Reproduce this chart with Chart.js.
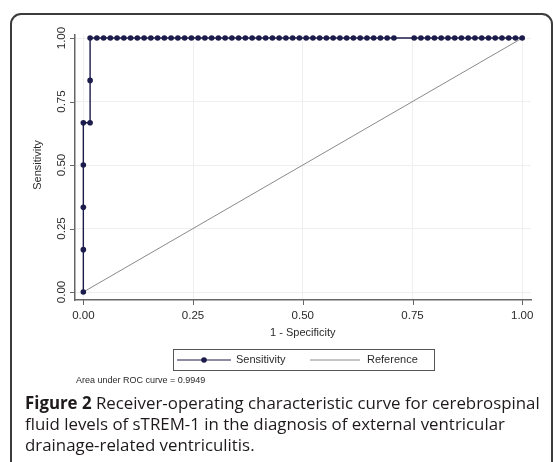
<!DOCTYPE html>
<html>
<head>
<meta charset="utf-8">
<script src="https://cdn.jsdelivr.net/npm/chart.js@4"></script>
<style>
  html, body { margin: 0; padding: 0; background: #fff; }
  #wrap { width: 553px; height: 462px; position: relative; }
</style>
</head>
<body>
<div id="wrap"><canvas id="roc"></canvas></div>
<script>
// ROC curve data (1 - specificity, sensitivity)
const fprValues = [
  0, 0, 0, 0, 0, 0.0154, 0.0154, 0.0154,
  0.0308, 0.0462, 0.0615, 0.0769, 0.0923, 0.1077, 0.1231, 0.1385, 0.1538, 0.1692,
  0.1846, 0.2, 0.2154, 0.2308, 0.2462, 0.2615, 0.2769, 0.2923, 0.3077, 0.3231,
  0.3385, 0.3538, 0.3692, 0.3846, 0.4, 0.4154, 0.4308, 0.4462, 0.4615, 0.4769,
  0.4923, 0.5077, 0.5231, 0.5385, 0.5538, 0.5692, 0.5846, 0.6, 0.6154, 0.6308,
  0.6462, 0.6615, 0.6769, 0.6923, 0.7077, 0.7538, 0.7692, 0.7846, 0.8, 0.8154,
  0.8308, 0.8462, 0.8615, 0.8769, 0.8923, 0.9077, 0.9231, 0.9385, 0.9538, 0.9692,
  0.9846, 1
];
const sensValues = [
  0, 0.1667, 0.3333, 0.5, 0.6667, 0.6667, 0.8333, 1,
  1, 1, 1, 1, 1, 1, 1, 1, 1, 1,
  1, 1, 1, 1, 1, 1, 1, 1, 1, 1,
  1, 1, 1, 1, 1, 1, 1, 1, 1, 1,
  1, 1, 1, 1, 1, 1, 1, 1, 1, 1,
  1, 1, 1, 1, 1, 1, 1, 1, 1, 1,
  1, 1, 1, 1, 1, 1, 1, 1, 1, 1,
  1, 1
];
const refX = [0, 1];
const refY = [0, 1];
const tickValues = [0, 0.25, 0.5, 0.75, 1];
const tickLabels = ['0.00', '0.25', '0.50', '0.75', '1.00'];
const legendLabels = ['Sensitivity', 'Reference'];
const aucNote = 'Area under ROC curve = 0.9949';
const captionBold = 'Figure 2';
const captionLines = [
  ' Receiver-operating characteristic curve for cerebrospinal',
  'fluid levels of sTREM-1 in the diagnosis of external ventricular',
  'drainage-related ventriculitis.'
];

const navy = '#1c1c4c';
const refGray = '#8a8a8a';
const axisFont = '"Liberation Sans", Arial, sans-serif';

const toPoints = (xs, ys) => xs.map((v, i) => ({ x: v, y: ys[i] }));

const extras = {
  id: 'extras',
  afterDraw(chart) {
    const { ctx, scales: { x, y } } = chart;
    ctx.save();

    // figure frame
    ctx.strokeStyle = '#3c3c3c';
    ctx.lineWidth = 2;
    ctx.beginPath();
    ctx.moveTo(11, 470);
    ctx.lineTo(11, 24);
    ctx.arcTo(11, 14, 21, 14, 10);
    ctx.lineTo(542, 14);
    ctx.arcTo(552, 14, 552, 24, 10);
    ctx.lineTo(552, 470);
    ctx.stroke();

    // tick marks
    ctx.strokeStyle = '#666';
    ctx.lineWidth = 1;
    const left = chart.chartArea.left, bottom = chart.chartArea.bottom;
    tickValues.forEach(v => {
      const py = Math.round(y.getPixelForValue(v)) + 0.5;
      ctx.beginPath(); ctx.moveTo(left - 5, py); ctx.lineTo(left, py); ctx.stroke();
      const px = Math.round(x.getPixelForValue(v)) + 0.5;
      ctx.beginPath(); ctx.moveTo(px, bottom); ctx.lineTo(px, bottom + 5); ctx.stroke();
    });

    // tick labels
    ctx.fillStyle = '#2a2a2a';
    ctx.font = '11.5px ' + axisFont;
    ctx.textAlign = 'center';
    ctx.textBaseline = 'middle';
    tickValues.forEach((v, i) => {
      ctx.fillText(tickLabels[i], x.getPixelForValue(v), 316);
      ctx.save();
      ctx.translate(62, y.getPixelForValue(v));
      ctx.rotate(-Math.PI / 2);
      ctx.fillText(tickLabels[i], 0, 0);
      ctx.restore();
    });

    // axis titles
    ctx.font = '11px ' + axisFont;
    ctx.fillText('1 - Specificity', x.getPixelForValue(0.5), 333);
    ctx.save();
    ctx.translate(38, y.getPixelForValue(0.5));
    ctx.rotate(-Math.PI / 2);
    ctx.fillText('Sensitivity', 0, 0);
    ctx.restore();

    // legend
    ctx.strokeStyle = '#555';
    ctx.lineWidth = 1;
    ctx.strokeRect(173.5, 349.5, 261, 21);
    ctx.strokeStyle = navy;
    ctx.lineWidth = 1.2;
    ctx.beginPath(); ctx.moveTo(177, 360); ctx.lineTo(231, 360); ctx.stroke();
    ctx.fillStyle = navy;
    ctx.beginPath(); ctx.arc(204, 360, 2.8, 0, Math.PI * 2); ctx.fill();
    ctx.strokeStyle = refGray;
    ctx.lineWidth = 1;
    ctx.beginPath(); ctx.moveTo(310, 360); ctx.lineTo(360, 360); ctx.stroke();
    ctx.fillStyle = '#2a2a2a';
    ctx.textAlign = 'left';
    ctx.fillText(legendLabels[0], 236, 360);
    ctx.fillText(legendLabels[1], 367, 360);

    // AUC note
    ctx.font = '9px ' + axisFont;
    ctx.fillText(aucNote, 76, 381);

    // caption
    ctx.fillStyle = '#1e1a1b';
    let size = 14;
    const capFont = '"Open Sans", "Noto Sans", sans-serif';
    ctx.font = `bold ${size}px ${capFont}`;
    let w = ctx.measureText(captionBold).width;
    ctx.font = `${size}px ${capFont}`;
    w += ctx.measureText(captionLines[0]).width;
    size = size * 515 / w;
    ctx.font = `bold ${size}px ${capFont}`;
    ctx.fillText(captionBold, 25, 404);
    const bw = ctx.measureText(captionBold).width;
    ctx.font = `${size}px ${capFont}`;
    ctx.fillText(captionLines[0], 25 + bw, 404);
    ctx.fillText(captionLines[1], 25, 425);
    ctx.fillText(captionLines[2], 25, 446);

    ctx.restore();
  }
};

new Chart(document.getElementById('roc'), {
  type: 'scatter',
  data: {
    datasets: [
      {
        label: legendLabels[0],
        data: toPoints(fprValues, sensValues),
        showLine: true,
        borderColor: navy,
        backgroundColor: navy,
        borderWidth: 1.4,
        pointRadius: 2.8,
        pointBorderWidth: 0,
        tension: 0
      },
      {
        label: legendLabels[1],
        data: toPoints(refX, refY),
        showLine: true,
        borderColor: refGray,
        borderWidth: 1,
        pointRadius: 0,
        tension: 0
      }
    ]
  },
  options: {
    responsive: true,
    maintainAspectRatio: false,
    animation: false,
    layout: { padding: { left: 75, top: 35, right: 22, bottom: 162 } },
    plugins: { legend: { display: false }, tooltip: { enabled: false } },
    scales: {
      x: {
        type: 'linear',
        min: -0.019,
        max: 1.02,
        afterBuildTicks: s => { s.ticks = tickValues.map(v => ({ value: v })); },
        afterFit: s => { s.height = 0; },
        ticks: { display: false },
        grid: { color: '#efefef', drawTicks: false },
        border: { display: true, color: '#666', width: 1.5 }
      },
      y: {
        type: 'linear',
        min: -0.0315,
        max: 1.012,
        afterBuildTicks: s => { s.ticks = tickValues.map(v => ({ value: v })); },
        afterFit: s => { s.width = 0; },
        ticks: { display: false },
        grid: { color: '#efefef', drawTicks: false },
        border: { display: true, color: '#666', width: 1.5 }
      }
    }
  },
  plugins: [extras]
});
</script>
</body>
</html>
